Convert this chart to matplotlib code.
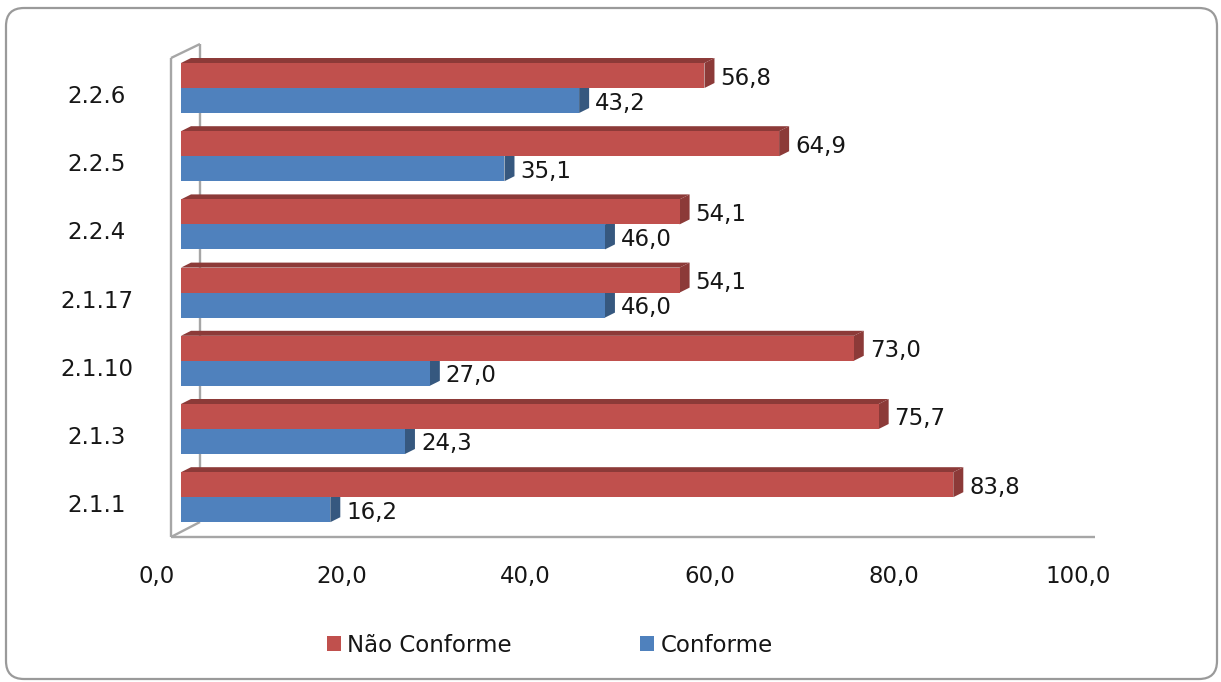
### HORIZONTAL 3D-STYLE BAR CHART: NAO CONFORME VS CONFORME PER ITEM ###
import matplotlib
matplotlib.use('Agg')
import matplotlib.pyplot as plt
from matplotlib.patches import Polygon, FancyBboxPatch, Patch
from matplotlib.transforms import ScaledTranslation

### DATA ###
categories = ['2.1.1', '2.1.3', '2.1.10', '2.1.17', '2.2.4', '2.2.5', '2.2.6']
nao_conforme = [83.8, 75.7, 73.0, 54.1, 54.1, 64.9, 56.8]
conforme = [16.2, 24.3, 27.0, 46.0, 46.0, 35.1, 43.2]
x_ticks = [0, 20, 40, 60, 80, 100]
series_names = ['Não Conforme', 'Conforme']

### STYLE ###
RED, RED_DARK = '#C0504D', '#8C3A38'
BLUE, BLUE_DARK = '#4F81BD', '#36587F'
FRAME = '#A6A6A6'
TEXT = '#161616'
FS = 16.5
W, H, DPI = 1221, 682, 100

plt.rcParams['font.family'] = ['DejaVu Sans']


def fmt(v):
    # decimal comma, one digit
    return f'{v:.1f}'.replace('.', ',')


def px(n):
    # pixel distance -> inches for offset transforms
    return n / DPI


fig = plt.figure(figsize=(W / DPI, H / DPI), dpi=DPI)

# background layer in pixel units: card border and the 3D walls/floor
bg = fig.add_axes([0, 0, 1, 1])
bg.set_xlim(0, W)
bg.set_ylim(H, 0)
bg.axis('off')
bg.add_patch(FancyBboxPatch((6, 8), 1211, 671,
                            boxstyle='round,pad=0,rounding_size=18',
                            fc='white', ec='#9A9A9A', lw=1.6))
frame_lines = [
    ((171, 171), (58, 537)),   # front left edge
    ((171, 200), (58, 44)),    # top of side wall
    ((200, 200), (44, 522)),   # back wall edge
    ((171, 200), (537, 522)),  # floor depth
    ((171, 1095), (537, 537)), # floor front edge
]
for xs, ys in frame_lines:
    bg.plot(xs, ys, color=FRAME, lw=1.7, solid_capstyle='butt')

# main plotting area: x=0 at the bars' front origin
ax_left, ax_right, ax_top, ax_bottom = 181, 1102.6, 40, 545
ax = fig.add_axes([ax_left / W, (H - ax_bottom) / H,
                   (ax_right - ax_left) / W, (ax_bottom - ax_top) / H])
ax.patch.set_alpha(0)
ax.set_xlim(0, 100)
ax.set_ylim(-0.701, 6.704)
for s in ax.spines.values():
    s.set_visible(False)

x_scale = (ax_right - ax_left) / 100.0             # px per unit
y_scale = (ax_bottom - ax_top) / (6.704 + 0.701)   # px per category
bar_h = 25 / y_scale
dx = 10 / x_scale
dy = 5 / y_scale

ys = list(range(len(categories)))

# blue (Conforme) sits below the group line, red (Nao Conforme) above
for y, v in zip(ys, conforme):
    ax.add_patch(Polygon([(v, y - bar_h), (v + dx, y - bar_h + dy),
                          (v + dx, y + dy), (v, y)],
                         closed=True, fc=BLUE_DARK, ec='none', zorder=2))
ax.barh([y - bar_h / 2 for y in ys], conforme, height=bar_h,
        color=BLUE, zorder=3)

for y, v in zip(ys, nao_conforme):
    top = y + bar_h
    ax.add_patch(Polygon([(v, y), (v + dx, y + dy),
                          (v + dx, top + dy), (v, top)],
                         closed=True, fc=RED_DARK, ec='none', zorder=4))
    ax.add_patch(Polygon([(0, top), (dx, top + dy),
                          (v + dx, top + dy), (v, top)],
                         closed=True, fc=RED_DARK, ec='none', zorder=4))
ax.barh([y + bar_h / 2 for y in ys], nao_conforme, height=bar_h,
        color=RED, zorder=5)

# value labels
for y, v in zip(ys, nao_conforme):
    ax.annotate(fmt(v), (v, y + bar_h / 2), xytext=(11.5, -1.8),
                textcoords='offset points', ha='left', va='center',
                fontsize=FS, color=TEXT, zorder=6)
for y, v in zip(ys, conforme):
    ax.annotate(fmt(v), (v, y - bar_h / 2), xytext=(11.5, -1.8),
                textcoords='offset points', ha='left', va='center',
                fontsize=FS, color=TEXT, zorder=6)

# axis labels
ax.set_xticks(x_ticks, [fmt(t) for t in x_ticks])
ax.set_yticks(ys, categories)
ax.tick_params(axis='x', length=0, pad=14.5, labelsize=FS, labelcolor=TEXT)
ax.tick_params(axis='y', length=0, pad=60.5, labelsize=FS, labelcolor=TEXT)
shift_x = ScaledTranslation(px(-24), 0, fig.dpi_scale_trans)
for lbl in ax.get_xticklabels():
    lbl.set_transform(lbl.get_transform() + shift_x)
shift_y = ScaledTranslation(0, px(-6), fig.dpi_scale_trans)
for lbl in ax.get_yticklabels():
    lbl.set_horizontalalignment('center')
    lbl.set_transform(lbl.get_transform() + shift_y)

# legend
handles = [Patch(facecolor=RED), Patch(facecolor=BLUE)]
leg = fig.legend(handles, series_names, loc='center',
                 bbox_to_anchor=(550 / W, 1 - 645 / H), ncol=2,
                 frameon=False, fontsize=FS, handlelength=0.6,
                 handleheight=0.6, handletextpad=0.3, columnspacing=5.6)
for t in leg.get_texts():
    t.set_color(TEXT)

fig.savefig('out.png', dpi=DPI)
